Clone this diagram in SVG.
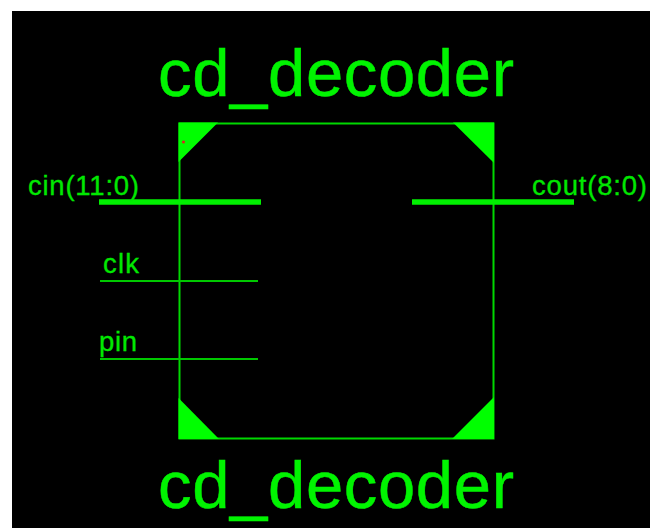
<svg xmlns="http://www.w3.org/2000/svg" width="650" height="528" viewBox="0 0 650 528">
<style>
text{font-family:"Liberation Sans",Arial,sans-serif}
.t{font-size:67px;fill:#00f400;stroke:#00f400;stroke-width:.5}
.p{font-size:27.500px;fill:#00e800;stroke:#00e800;stroke-width:.3}
.c{fill:#00ff00;stroke:none}
.bus{stroke:#00f000;stroke-width:5.500;fill:none}
.wire{stroke:#00c800;stroke-width:2;fill:none}
</style>
<rect width="650" height="528" fill="#fff"/>
<rect x="12" y="11" width="638" height="517" fill="#000"/>
<g id="block">
<rect x="179.500" y="123.500" width="314" height="315" fill="none" stroke="#00d800" stroke-width="2"/>
<path class="c" d="M178.500 122.500H218L178.500 162Z"/>
<path class="c" d="M453 122.500H494V163Z"/>
<path class="c" d="M178.500 398L219 439H178.500Z"/>
<path class="c" d="M494 397V439H452Z"/>
<circle cx="183.500" cy="142" r="1.500" fill="#e02020"/>
<text class="t" x="158" y="96" textLength="356" lengthAdjust="spacing">cd_decoder</text>
<text class="t" x="158" y="508" textLength="356" lengthAdjust="spacing">cd_decoder</text>
</g>
<g id="connectors">
<path class="bus" d="M99 202H261"/>
<path class="bus" d="M412 202H574"/>
<path class="wire" d="M100 281H258"/>
<path class="wire" d="M100 359H258"/>
</g>
<g id="port-cin"><text class="p" x="28" y="195" textLength="111" lengthAdjust="spacing">cin(11:0)</text></g>
<g id="port-cout"><text class="p" x="532" y="195" textLength="115" lengthAdjust="spacing">cout(8:0)</text></g>
<g id="port-clk"><text class="p" x="103" y="273" textLength="36" lengthAdjust="spacing">clk</text></g>
<g id="port-pin"><text class="p" x="99" y="351" textLength="38" lengthAdjust="spacing">pin</text></g>
</svg>
